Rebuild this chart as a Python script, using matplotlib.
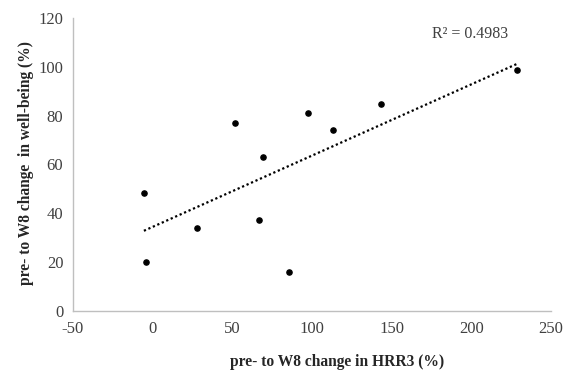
import numpy as np
import matplotlib
matplotlib.use("Agg")
import matplotlib.pyplot as plt

# change in HRR3 (%) vs change in well-being (%)
hrr3_change = [-5.5, -4.2, 27.8, 66.7, 85.7, 51.8, 69.2, 97.4, 113.1, 143.4, 228.5]
wellbeing_change = [48.4, 20.1, 34.0, 37.3, 15.9, 77.2, 63.0, 80.9, 74.0, 84.8, 98.5]
r_squared = "0.4983"

x_ticks = [-50, 0, 50, 100, 150, 200, 250]
y_ticks = [0, 20, 40, 60, 80, 100, 120]


def main() -> None:
    plt.rcParams["font.family"] = ["Liberation Serif", "DejaVu Serif"]
    plt.rcParams["axes.unicode_minus"] = False
    x = np.array(hrr3_change)
    y = np.array(wellbeing_change)

    W, H = 570, 371
    fig = plt.figure(figsize=(W / 100, H / 100), dpi=100)
    ax = fig.add_axes([73 / W, 1 - 311 / H, (551 - 73) / W, (311 - 18) / H])

    ax.scatter(x, y, s=14, color="black", zorder=3)

    slope, intercept = np.polyfit(x, y, 1)
    xs = np.array([x.min(), x.max()])
    ax.plot(xs, slope * xs + intercept, color="black", linestyle=(0, (1, 1.2)), linewidth=1.6)

    ax.set_xlim(-50, 250)
    ax.set_ylim(0, 120)
    ax.set_xticks(x_ticks)
    ax.set_yticks(y_ticks)
    ax.tick_params(length=0, labelsize=12, colors="#404040", pad=7)

    for side in ["top", "right"]:
        ax.spines[side].set_visible(False)
    for side in ["left", "bottom"]:
        ax.spines[side].set_color("#BFBFBF")
        ax.spines[side].set_linewidth(1.0)

    fig.text(470 / W, 1 - 34 / H, "R² = " + r_squared,
             ha="center", va="center", fontsize=11.5, color="#404040")

    fig.text(337 / W, 1 - 362 / H, "pre- to W8 change in HRR3 (%)", fontsize=11.2,
             fontweight="bold", color="#262626", ha="center", va="center")
    fig.text(26 / W, 1 - 163 / H, "pre- to W8 change  in well-being (%)", fontsize=11.2,
             fontweight="bold", color="#262626", ha="center", va="center", rotation=90)

    fig.savefig("out.png", dpi=100)


if __name__ == "__main__":
    main()
